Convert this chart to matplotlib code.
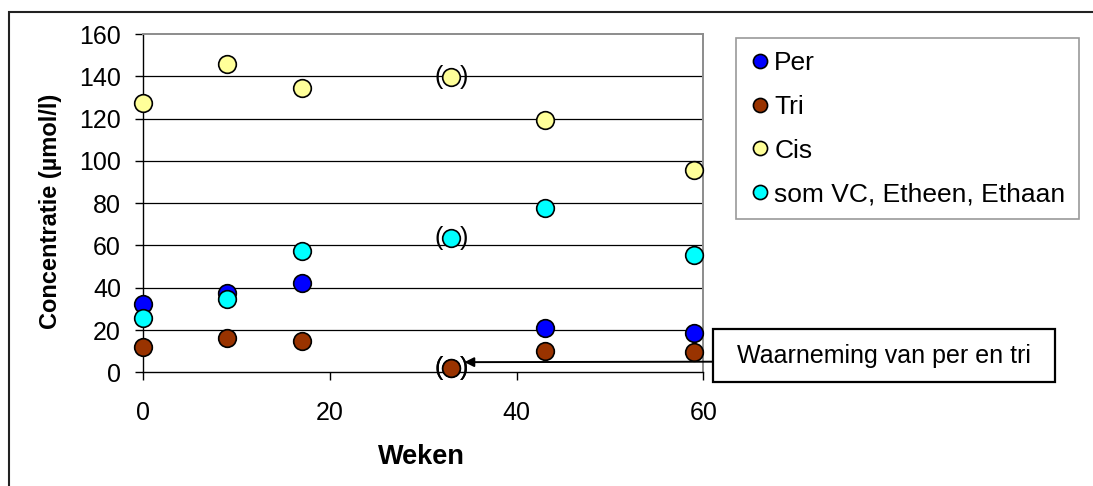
import numpy as np
import matplotlib
matplotlib.use('Agg')
import matplotlib.pyplot as plt
from matplotlib.patches import Rectangle

plt.rcParams['font.family'] = ['Liberation Sans', 'DejaVu Sans']

# Data
weeks = [0, 9, 17, 33, 43, 59]
per = [32.5, 37.5, 42, 2, 21, 18.5]      # week 33: per/tri observation (hidden under tri)
tri = [12, 16, 15, 2, 10, 9.5]
cis = [127.5, 146, 134.5, 139.5, 119.5, 95.5]
som = [25.5, 34.5, 57.5, 63.5, 77.5, 55.5]
bracket_week = 33  # points shown between brackets

series = [
    ('Per', per, '#0000FF'),
    ('Tri', tri, '#993300'),
    ('Cis', cis, '#FFFF99'),
    ('som VC, Etheen, Ethaan', som, '#00FFFF'),
]

W, H = 1093, 486
fig = plt.figure(figsize=(W / 100, H / 100), dpi=100)
ax = fig.add_axes([143.3 / W, (H - 372.3) / H, 560 / W, 338.3 / H])

for label, vals, col in series:
    ax.plot(weeks, vals, 'o', ls='none', ms=12.7, mfc=col, mec='black', mew=1.2,
            label=label, clip_on=False, zorder=3)
    i = weeks.index(bracket_week)
    for sign, ch in ((-1, '('), (1, ')')):
        ax.annotate(ch, xy=(weeks[i], vals[i]), xytext=(sign * 12.5, 0),
                    textcoords='offset pixels', ha='center', va='center',
                    fontsize=18, zorder=4)

ax.set_xlim(0, 60)
ax.set_ylim(0, 160)
ax.set_xticks([0, 20, 40, 60])
ax.set_yticks(np.arange(0, 161, 20))
ax.tick_params(axis='both', direction='out', length=6, width=1, labelsize=18,
               color='black')
ax.tick_params(axis='x', pad=15)
ax.tick_params(axis='y', pad=10)
ax.grid(axis='y', color='black', lw=0.9)
ax.get_ygridlines()[-1].set_visible(False)
ax.get_ygridlines()[0].set_visible(False)
ax.set_axisbelow(True)

for side in ('top', 'right'):
    ax.spines[side].set_color('#8c8c8c')
    ax.spines[side].set_linewidth(1.4)
for side in ('left', 'bottom'):
    ax.spines[side].set_color('black')
    ax.spines[side].set_linewidth(1.0)

ax.set_ylabel('Concentratie (µmol/l)', fontsize=17, fontweight='bold')
ax.yaxis.set_label_coords(-0.166, 0.477)
ax.yaxis.label.set_va('center')
ax.set_xlabel('Weken', fontsize=19.5, fontweight='bold')
ax.xaxis.label.set_va('center')
ax.xaxis.set_label_coords(0.496, -0.25)

leg = ax.legend(loc='upper left', bbox_to_anchor=(736 / W, 1 - 38.3 / H),
                bbox_transform=fig.transFigure, fontsize=19, frameon=True,
                fancybox=False, borderaxespad=0, markerscale=0.8,
                handlelength=0.8, handletextpad=0.15, labelspacing=0.74,
                borderpad=0.5)
leg.get_frame().set_edgecolor('#808080')
leg.get_frame().set_linewidth(1.2)

# annotation box with arrow
bx0, by0, bx1, by1 = 712.7, 329.3, 1055, 382
fig.add_artist(Rectangle((bx0 / W, 1 - by1 / H), (bx1 - bx0) / W, (by1 - by0) / H,
                         transform=fig.transFigure, fill=False, ec='black', lw=1.6))
fig.text((bx0 + bx1) / 2 / W, 1 - (by0 + by1) / 2 / H, 'Waarneming van per en tri',
         ha='center', va='center', fontsize=18)
ax.annotate('', xy=(34.4, 4.8), xycoords='data',
            xytext=(bx0 / W, 1 - 361.7 / H), textcoords='figure fraction',
            arrowprops=dict(arrowstyle='-|>', color='black', lw=1.4,
                            mutation_scale=14, shrinkA=0, shrinkB=0),
            annotation_clip=False, zorder=5)

# outer chart frame (cut off at right and bottom)
fig.add_artist(Rectangle((9 / W, -0.1), 1.2, 1 - 12 / H + 0.1,
                         transform=fig.transFigure, fill=False, ec='#222222', lw=1.5))

fig.savefig('out.png', dpi=100)
